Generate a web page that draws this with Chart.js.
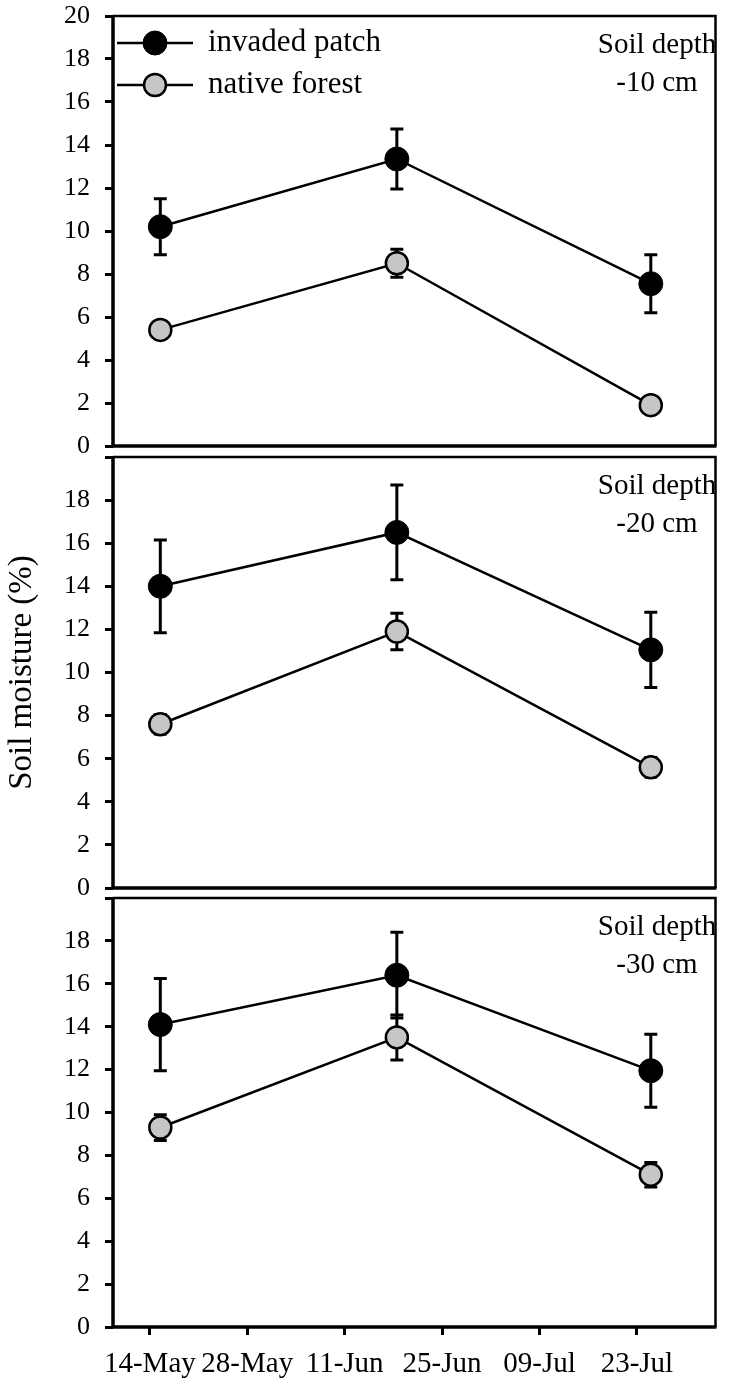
<!DOCTYPE html>
<html>
<head>
<meta charset="utf-8">
<title>Soil moisture</title>
<script src="https://cdn.jsdelivr.net/npm/chart.js@4.4.1/dist/chart.umd.min.js"></script>
<style>
html, body { margin: 0; padding: 0; background: #fff; }
#wrap { position: relative; width: 729px; height: 1384px; overflow: hidden; }
#wrap canvas { position: absolute; left: 0; }
</style>
</head>
<body>
<div id="wrap">
	<canvas id="c10" width="729" height="470" style="top:0px"></canvas>
	<canvas id="c20" width="729" height="470" style="top:440px"></canvas>
	<canvas id="c30" width="729" height="504" style="top:880px"></canvas>
</div>
<script>
// x axis: days counted from 14-May
const tickDays = [0, 14, 28, 42, 56, 70];
const tickLabels = ['14-May', '28-May', '11-Jun', '25-Jun', '09-Jul', '23-Jul'];
const sampleDays = [1.5, 35.5, 72];
const seriesNames = ['invaded patch', 'native forest'];
const yTicks = [0, 2, 4, 6, 8, 10, 12, 14, 16, 18, 20];

// -10 cm
const invaded10 = [10.2, 13.35, 7.55];
const invaded10Err = [1.3, 1.4, 1.35];
const native10 = [5.4, 8.5, 1.9];
const native10Err = [0.35, 0.65, 0.2];
// -20 cm
const invaded20 = [14.0, 16.5, 11.05];
const invaded20Err = [2.15, 2.2, 1.75];
const native20 = [7.6, 11.9, 5.6];
const native20Err = [0.45, 0.85, 0.45];
// -30 cm
const invaded30 = [14.1, 16.4, 11.95];
const invaded30Err = [2.15, 2.0, 1.7];
const native30 = [9.3, 13.5, 7.1];
const native30Err = [0.6, 1.05, 0.57];

const serif = "'Liberation Serif', 'Times New Roman', serif";
Chart.defaults.font.family = serif;
Chart.defaults.color = '#000';

function points(values) {
	return sampleDays.map(function (d, i) { return { x: d, y: values[i] }; });
}

const errorBars = {
	id: 'errorBars',
	beforeDatasetsDraw(chart) {
		let ctx = chart.ctx, sx = chart.scales.x, sy = chart.scales.y;
		ctx.save();
		ctx.strokeStyle = '#000';
		ctx.lineWidth = 3;
		chart.data.datasets.forEach(function (ds) {
			ds.data.forEach(function (p, i) {
				let e = ds.errors[i];
				let px = sx.getPixelForValue(p.x);
				let top = sy.getPixelForValue(p.y + e);
				let bot = sy.getPixelForValue(p.y - e);
				ctx.beginPath();
				ctx.moveTo(px, top); ctx.lineTo(px, bot);
				ctx.moveTo(px - 6.5, top); ctx.lineTo(px + 6.5, top);
				ctx.moveTo(px - 6.5, bot); ctx.lineTo(px + 6.5, bot);
				ctx.stroke();
			});
		});
		ctx.restore();
	}
};

const frame = {
	id: 'frame',
	afterDraw(chart) {
		let ctx = chart.ctx, a = chart.chartArea;
		ctx.save();
		ctx.strokeStyle = '#000';
		ctx.lineWidth = 2.5;
		ctx.beginPath();
		ctx.moveTo(a.left, a.top); ctx.lineTo(a.right, a.top); ctx.lineTo(a.right, a.bottom);
		ctx.stroke();
		ctx.lineWidth = 3.5;
		ctx.beginPath();
		ctx.moveTo(a.left, a.top - 1); ctx.lineTo(a.left, a.bottom); ctx.lineTo(a.right + 1, a.bottom);
		ctx.stroke();
		ctx.restore();
	}
};

const depthLabel = {
	id: 'depthLabel',
	afterDraw(chart, args, opts) {
		let ctx = chart.ctx, a = chart.chartArea;
		ctx.save();
		ctx.fillStyle = '#000';
		ctx.font = '29px ' + serif;
		ctx.textAlign = 'center';
		ctx.textBaseline = 'middle';
		ctx.fillText('Soil depth', 657, a.top + 29);
		ctx.fillText(opts.text, 657, a.top + 67);
		ctx.restore();
	}
};

const legendBox = {
	id: 'legendBox',
	afterDraw(chart, args, opts) {
		if (!opts.show) return;
		let ctx = chart.ctx;
		let rows = [43, 85];
		chart.data.datasets.forEach(function (ds, i) {
			let yy = rows[i];
			ctx.save();
			ctx.strokeStyle = '#000';
			ctx.lineWidth = 2.5;
			ctx.beginPath(); ctx.moveTo(117, yy); ctx.lineTo(193, yy); ctx.stroke();
			ctx.beginPath(); ctx.arc(155, yy, ds.pointRadius, 0, Math.PI * 2);
			ctx.fillStyle = ds.pointBackgroundColor; ctx.fill();
			ctx.lineWidth = ds.pointBorderWidth; ctx.stroke();
			ctx.fillStyle = '#000';
			ctx.font = '31px ' + serif;
			ctx.textBaseline = 'middle';
			ctx.fillText(ds.label, 208, yy);
			ctx.restore();
		});
	}
};

function makePanel(id, depth, inv, invErr, nat, natErr, pad, showX, showLegend, showTitle, showTop) {
	new Chart(document.getElementById(id), {
		type: 'scatter',
		data: {
			datasets: [{
				label: seriesNames[0],
				data: points(inv),
				errors: invErr,
				showLine: true,
				borderColor: '#000',
				borderWidth: 2.5,
				pointRadius: 12,
				pointBackgroundColor: '#000',
				pointBorderColor: '#000',
				pointBorderWidth: 1
			}, {
				label: seriesNames[1],
				data: points(nat),
				errors: natErr,
				showLine: true,
				borderColor: '#000',
				borderWidth: 2.5,
				pointRadius: 11,
				pointBackgroundColor: '#c6c6c6',
				pointBorderColor: '#000',
				pointBorderWidth: 2.5
			}]
		},
		options: {
			responsive: false,
			animation: false,
			events: [],
			layout: { padding: { left: 0, right: 4, top: pad.top, bottom: pad.bottom } },
			plugins: {
				legend: { display: false },
				tooltip: { enabled: false },
				depthLabel: { text: depth },
				legendBox: { show: showLegend }
			},
			scales: {
				x: {
					type: 'linear',
					display: showX,
					min: -5.3,
					max: 81.3,
					afterBuildTicks: function (scale) {
						scale.ticks = tickDays.map(function (v) { return { value: v }; });
					},
					afterFit: function (scale) {
						scale.height = showX ? 57 : 0;
						scale.paddingLeft = 0;
						scale.paddingRight = 0;
					},
					border: { display: false },
					grid: { drawOnChartArea: false, drawTicks: true, tickLength: 8, lineWidth: 3, color: '#000' },
					ticks: {
						autoSkip: false,
						maxRotation: 0,
						padding: 12,
						font: { size: 29 },
						callback: function (v) { return tickLabels[tickDays.indexOf(v)]; }
					}
				},
				y: {
					min: 0,
					max: 20,
					afterBuildTicks: function (scale) {
						scale.ticks = yTicks.map(function (v) { return { value: v }; });
					},
					afterFit: function (scale) {
						scale.width = 113;
						scale.paddingTop = 0;
						scale.paddingBottom = 0;
					},
					border: { display: false },
					grid: { drawOnChartArea: false, drawTicks: true, tickLength: 8, lineWidth: 3, color: '#000' },
					title: {
						display: showTitle,
						text: 'Soil moisture (%)',
						font: { size: 33 },
						padding: { top: 3, bottom: 0 }
					},
					ticks: {
						padding: 15,
						font: { size: 26 },
						callback: function (v) { return (v === 20 && !showTop) ? '' : String(v); }
					}
				}
			}
		},
		plugins: [errorBars, frame, depthLabel, legendBox]
	});
}

makePanel('c10', '-10 cm', invaded10, invaded10Err, native10, native10Err, { top: 16, bottom: 24 }, false, true, false, true);
makePanel('c20', '-20 cm', invaded20, invaded20Err, native20, native20Err, { top: 17, bottom: 22 }, false, false, true, false);
makePanel('c30', '-30 cm', invaded30, invaded30Err, native30, native30Err, { top: 18, bottom: 0 }, true, false, false, false);
</script>
</body>
</html>
